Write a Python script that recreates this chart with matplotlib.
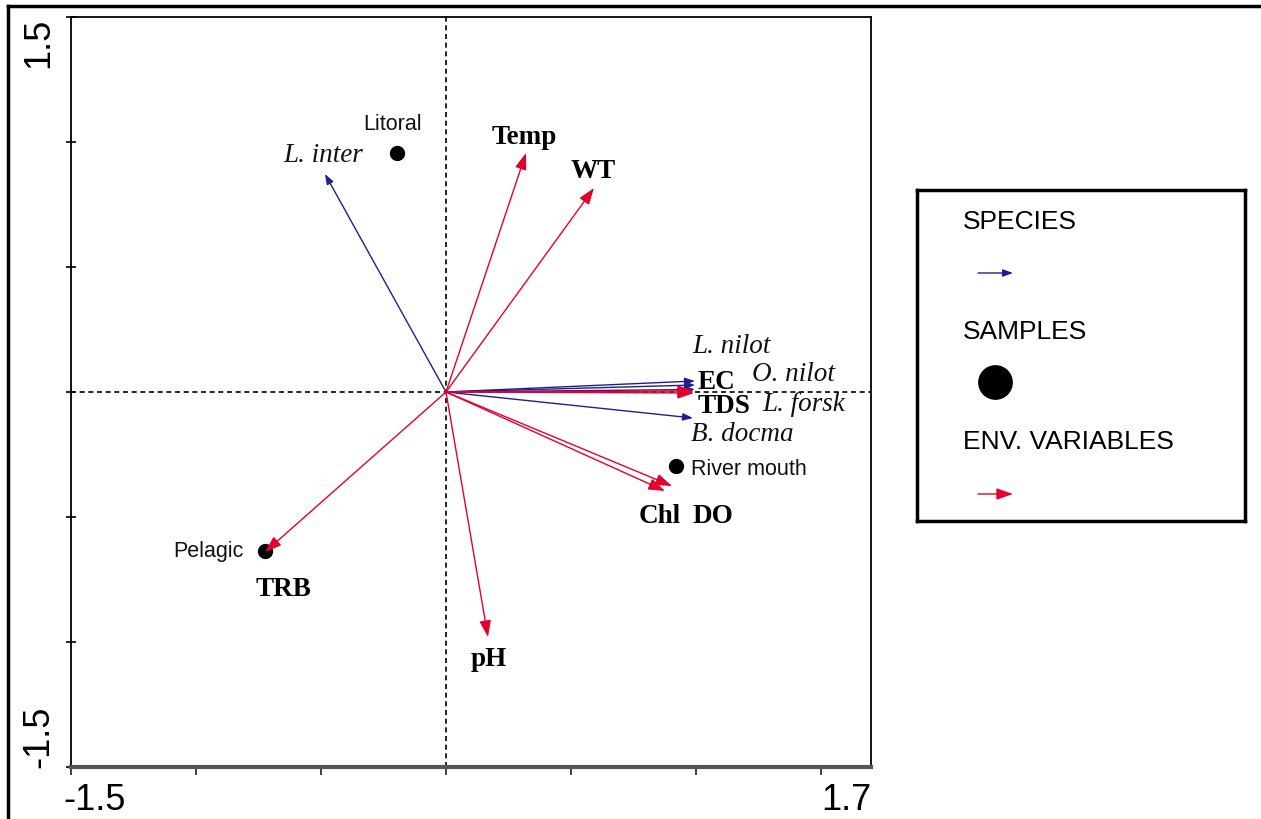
import numpy as np
import matplotlib.pyplot as plt
from matplotlib.lines import Line2D

# species scores (arrows)
species = ['L. inter', 'L. nilot', 'O. nilot', 'L. forsk', 'B. docma']
species_x = [-0.484, 0.996, 0.996, 0.996, 0.988]
species_y = [0.872, 0.044, 0.028, 0.010, -0.104]

# environmental variables (arrows)
env_vars = ['Temp', 'WT', 'EC', 'TDS', 'Chl', 'DO', 'TRB', 'pH']
env_x = [0.320, 0.592, 0.992, 0.992, 0.876, 0.904, -0.724, 0.168]
env_y = [0.956, 0.816, 0.004, -0.004, -0.396, -0.376, -0.640, -0.980]

# samples (points)
samples = ['Litoral', 'River mouth', 'Pelagic']
sample_x = [-0.196, 0.920, -0.724]
sample_y = [0.956, -0.296, -0.636]

# label placement
species_lab_x = [-0.492, 1.144, 1.388, 1.432, 1.184]
species_lab_y = [0.952, 0.184, 0.072, -0.048, -0.168]
env_lab_x = [0.312, 0.588, 1.008, 1.008, 0.856, 1.068, -0.652, 0.172]
env_lab_y = [1.024, 0.884, 0.040, -0.056, -0.496, -0.496, -0.788, -1.068]
env_lab_ha = ['center', 'center', 'left', 'left', 'center', 'center', 'center', 'center']
sample_lab_x = [-0.212, 0.980, -0.952]
sample_lab_y = [1.072, -0.308, -0.636]
sample_lab_ha = ['center', 'left', 'center']

BLUE = '#1f1f8f'
RED = '#e3002c'
SANS = 'Liberation Sans'
SERIF = 'Liberation Serif'

fig = plt.figure(figsize=(12.61, 8.20), dpi=100)
W, H = 1261, 820

ax = fig.add_axes([71 / W, (H - 768) / H, 800 / W, 750 / H])
ax.set_xlim(-1.5, 1.7)
ax.set_ylim(-1.5, 1.5)

for side in ['left', 'top', 'right']:
    ax.spines[side].set_linewidth(1.3)
ax.spines['bottom'].set_linewidth(3)
ax.spines['bottom'].set_color('#555555')

ax.set_xticks(np.arange(-1.5, 1.6, 0.5))
ax.set_yticks(np.arange(-1.5, 1.6, 0.5))
ax.set_xticklabels([])
ax.set_yticklabels([])
ax.tick_params(axis='x', direction='out', length=6, width=1.3, color='#333333')
ax.tick_params(axis='y', direction='inout', length=7, width=1.2)

ax.text(-1.53, -0.02, '-1.5', transform=ax.get_xaxis_transform(), ha='left', va='top',
        fontsize=26, family=SANS)
ax.text(1.7, -0.02, '1.7', transform=ax.get_xaxis_transform(), ha='right', va='top',
        fontsize=26, family=SANS)
ax.text(-0.04, 1.5, '1.5', transform=ax.get_yaxis_transform(), ha='center', va='top',
        rotation=90, fontsize=26, family=SANS)
ax.text(-0.04, -1.5, '-1.5', transform=ax.get_yaxis_transform(), ha='center', va='bottom',
        rotation=90, fontsize=26, family=SANS)

ax.axvline(0, color='black', lw=1.2, ls=(0, (3, 2.2)), zorder=1)
ax.axhline(0, color='black', lw=1.2, ls=(0, (3, 2.2)), zorder=1)

# samples
ax.plot(sample_x, sample_y, 'o', color='black', markersize=10, zorder=2)
for name, x, y, ha in zip(samples, sample_lab_x, sample_lab_y, sample_lab_ha):
    ax.text(x, y, name, ha=ha, va='center', fontsize=15.5, family=SANS, color='#111111')

# species arrows
for name, x, y, lx, ly in zip(species, species_x, species_y, species_lab_x, species_lab_y):
    ax.annotate('', xy=(x, y), xytext=(0, 0),
                arrowprops=dict(arrowstyle='-|>,head_length=0.6,head_width=0.22',
                                color=BLUE, lw=1.0, mutation_scale=10,
                                shrinkA=0, shrinkB=0), zorder=3)
    ax.text(lx, ly, name, ha='center', va='center', fontsize=19.5, family=SERIF,
            style='italic', color='#111111')

# env variable arrows
for name, x, y, lx, ly, ha in zip(env_vars, env_x, env_y, env_lab_x, env_lab_y, env_lab_ha):
    ax.annotate('', xy=(x, y), xytext=(0, 0),
                arrowprops=dict(arrowstyle='-|>,head_length=1.0,head_width=0.35',
                                color=RED, lw=1.0, mutation_scale=10,
                                shrinkA=0, shrinkB=0), zorder=4)
    ax.text(lx, ly, name, ha=ha, va='center', fontsize=19.5, family=SERIF,
            weight='bold', color='black', zorder=5)

# legend box
leg = fig.add_axes([917 / W, (H - 522) / H, 328 / W, 331 / H])
leg.set_xlim(917, 1245)
leg.set_ylim(522, 191)
leg.set_xticks([])
leg.set_yticks([])
for s in leg.spines.values():
    s.set_linewidth(2.5)

leg.text(963, 222, 'SPECIES', ha='left', va='center', fontsize=19, family=SANS)
leg.annotate('', xy=(1013, 274), xytext=(978, 274),
             arrowprops=dict(arrowstyle='-|>,head_length=0.6,head_width=0.22',
                             color=BLUE, lw=1.0, mutation_scale=10, shrinkA=0, shrinkB=0))
leg.text(963, 332, 'SAMPLES', ha='left', va='center', fontsize=19, family=SANS)
leg.plot([995], [383], 'o', color='black', markersize=24)
leg.text(963, 442, 'ENV. VARIABLES', ha='left', va='center', fontsize=19, family=SANS)
leg.annotate('', xy=(1013, 495), xytext=(978, 495),
             arrowprops=dict(arrowstyle='-|>,head_length=1.0,head_width=0.35',
                             color=RED, lw=1.0, mutation_scale=10, shrinkA=0, shrinkB=0))

# outer frame (top and left edges only)
fig.add_artist(Line2D([8 / W, 1], [1 - 7 / H, 1 - 7 / H], color='black', lw=2.5,
                      transform=fig.transFigure))
fig.add_artist(Line2D([8 / W, 8 / W], [0, 1 - 7 / H], color='black', lw=2.5,
                      transform=fig.transFigure))

fig.savefig('out.png', dpi=100)
